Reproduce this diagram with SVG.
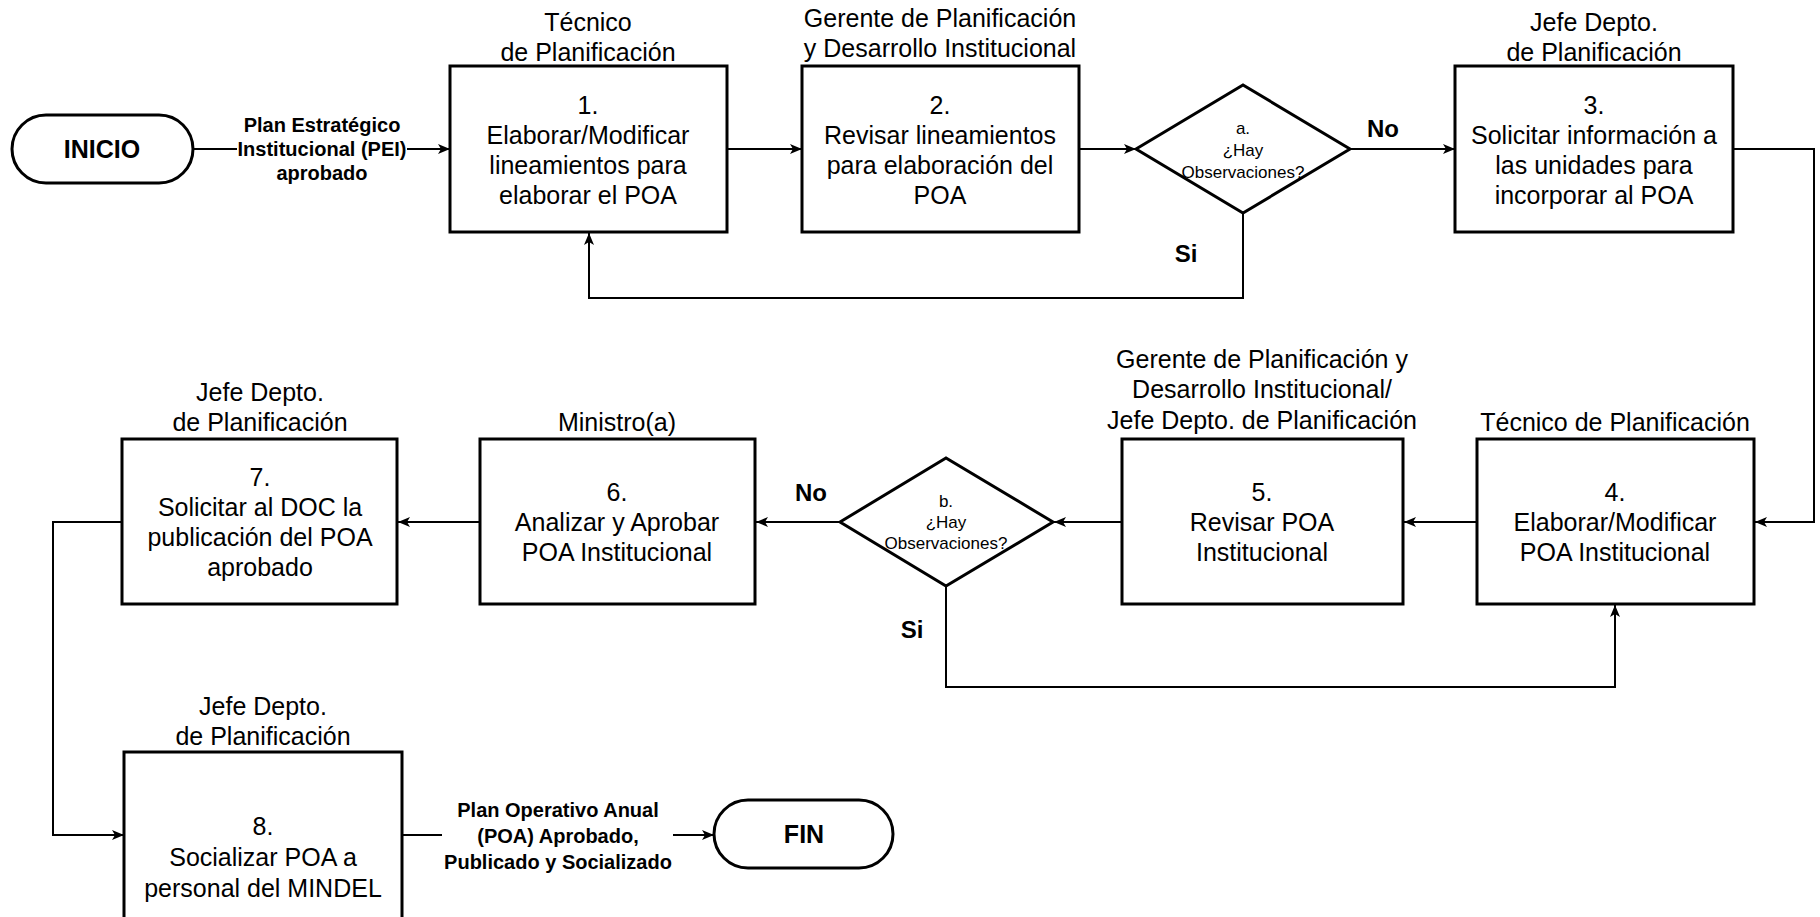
<svg xmlns="http://www.w3.org/2000/svg" width="1820" height="917" viewBox="0 0 1820 917">
<style>
.box{fill:#fff;stroke:#000;stroke-width:3}
.term{fill:#fff;stroke:#000;stroke-width:3}
.dia{fill:#fff;stroke:#000;stroke-width:3}
.con{fill:none;stroke:#000;stroke-width:2}
text{font-family:"Liberation Sans",Arial,sans-serif;text-anchor:middle;fill:#000}
.t{font-size:25px}
.lbl{font-size:20px;font-weight:bold}
.yn{font-size:24px;font-weight:bold}
.dt{font-size:17px}
.tt{font-size:25px;font-weight:bold}
</style>
<defs>
<marker id="arr" markerUnits="userSpaceOnUse" markerWidth="14" markerHeight="12" refX="12" refY="5" orient="auto">
<path d="M0,0 L12,5 L0,10 L3,5 z" fill="#000"/>
</marker>
</defs>
<g id="connectors">
<path class="con" d="M193,149 H237"/>
<path class="con" d="M407,149 H450" marker-end="url(#arr)"/>
<path class="con" d="M727,149 H802" marker-end="url(#arr)"/>
<path class="con" d="M1079,149 H1136" marker-end="url(#arr)"/>
<path class="con" d="M1350,149 H1455" marker-end="url(#arr)"/>
<path class="con" d="M1243,213 V298 H589 V233" marker-end="url(#arr)"/>
<path class="con" d="M1733,149 H1814 V522 H1755" marker-end="url(#arr)"/>
<path class="con" d="M1477,522 H1404" marker-end="url(#arr)"/>
<path class="con" d="M1122,522 H1054" marker-end="url(#arr)"/>
<path class="con" d="M840,522 H756" marker-end="url(#arr)"/>
<path class="con" d="M946,586 V687 H1615 V605" marker-end="url(#arr)"/>
<path class="con" d="M480,522 H398" marker-end="url(#arr)"/>
<path class="con" d="M122,522 H53 V835 H124" marker-end="url(#arr)"/>
<path class="con" d="M402,835 H442"/>
<path class="con" d="M673,835 H714" marker-end="url(#arr)"/>
<text class="lbl" x="322" y="132">Plan Estratégico</text>
<text class="lbl" x="322" y="156">Institucional (PEI)</text>
<text class="lbl" x="322" y="180">aprobado</text>
<text class="yn" x="1383" y="137">No</text>
<text class="yn" x="1186" y="262">Si</text>
<text class="yn" x="811" y="501">No</text>
<text class="yn" x="912" y="638">Si</text>
<text class="lbl" x="558" y="817">Plan Operativo Anual</text>
<text class="lbl" x="558" y="843">(POA) Aprobado,</text>
<text class="lbl" x="558" y="869">Publicado y Socializado</text>
</g>
<g id="inicio">
<rect class="term" x="12" y="115" width="181" height="68" rx="34"/>
<text class="tt" x="102" y="158">INICIO</text>
</g>
<g id="box1">
<rect class="box" x="450" y="66" width="277" height="166"/>
<text class="t" x="588" y="31">Técnico</text>
<text class="t" x="588" y="61">de Planificación</text>
<text class="t" x="588" y="114">1.</text>
<text class="t" x="588" y="144">Elaborar/Modificar</text>
<text class="t" x="588" y="174">lineamientos para</text>
<text class="t" x="588" y="204">elaborar el POA</text>
</g>
<g id="box2">
<rect class="box" x="802" y="66" width="277" height="166"/>
<text class="t" x="940" y="27">Gerente de Planificación</text>
<text class="t" x="940" y="57">y Desarrollo Institucional</text>
<text class="t" x="940" y="114">2.</text>
<text class="t" x="940" y="144">Revisar lineamientos</text>
<text class="t" x="940" y="174">para elaboración del</text>
<text class="t" x="940" y="204">POA</text>
</g>
<g id="decision-a">
<polygon class="dia" points="1136,149 1243,85 1350,149 1243,213"/>
<text class="dt" x="1243" y="134">a.</text>
<text class="dt" x="1243" y="156">¿Hay</text>
<text class="dt" x="1243" y="178">Observaciones?</text>
</g>
<g id="box3">
<rect class="box" x="1455" y="66" width="278" height="166"/>
<text class="t" x="1594" y="31">Jefe Depto.</text>
<text class="t" x="1594" y="61">de Planificación</text>
<text class="t" x="1594" y="114">3.</text>
<text class="t" x="1594" y="144">Solicitar información a</text>
<text class="t" x="1594" y="174">las unidades para</text>
<text class="t" x="1594" y="204">incorporar al POA</text>
</g>
<g id="box4">
<rect class="box" x="1477" y="439" width="277" height="165"/>
<text class="t" x="1615" y="431">Técnico de Planificación</text>
<text class="t" x="1615" y="501">4.</text>
<text class="t" x="1615" y="531">Elaborar/Modificar</text>
<text class="t" x="1615" y="561">POA Institucional</text>
</g>
<g id="box5">
<rect class="box" x="1122" y="439" width="281" height="165"/>
<text class="t" x="1262" y="368">Gerente de Planificación y</text>
<text class="t" x="1262" y="398">Desarrollo Institucional/</text>
<text class="t" x="1262" y="429">Jefe Depto. de Planificación</text>
<text class="t" x="1262" y="501">5.</text>
<text class="t" x="1262" y="531">Revisar POA</text>
<text class="t" x="1262" y="561">Institucional</text>
</g>
<g id="decision-b">
<polygon class="dia" points="840,522 946,458 1053,522 946,586"/>
<text class="dt" x="946" y="507">b.</text>
<text class="dt" x="946" y="528">¿Hay</text>
<text class="dt" x="946" y="549">Observaciones?</text>
</g>
<g id="box6">
<rect class="box" x="480" y="439" width="275" height="165"/>
<text class="t" x="617" y="431">Ministro(a)</text>
<text class="t" x="617" y="501">6.</text>
<text class="t" x="617" y="531">Analizar y Aprobar</text>
<text class="t" x="617" y="561">POA Institucional</text>
</g>
<g id="box7">
<rect class="box" x="122" y="439" width="275" height="165"/>
<text class="t" x="260" y="401">Jefe Depto.</text>
<text class="t" x="260" y="431">de Planificación</text>
<text class="t" x="260" y="486">7.</text>
<text class="t" x="260" y="516">Solicitar al DOC la</text>
<text class="t" x="260" y="546">publicación del POA</text>
<text class="t" x="260" y="576">aprobado</text>
</g>
<g id="box8">
<rect class="box" x="124" y="752" width="278" height="175"/>
<text class="t" x="263" y="715">Jefe Depto.</text>
<text class="t" x="263" y="745">de Planificación</text>
<text class="t" x="263" y="835">8.</text>
<text class="t" x="263" y="866">Socializar POA a</text>
<text class="t" x="263" y="897">personal del MINDEL</text>
</g>
<g id="fin">
<rect class="term" x="714" y="800" width="179" height="68" rx="34"/>
<text class="tt" x="804" y="843">FIN</text>
</g>
</svg>
